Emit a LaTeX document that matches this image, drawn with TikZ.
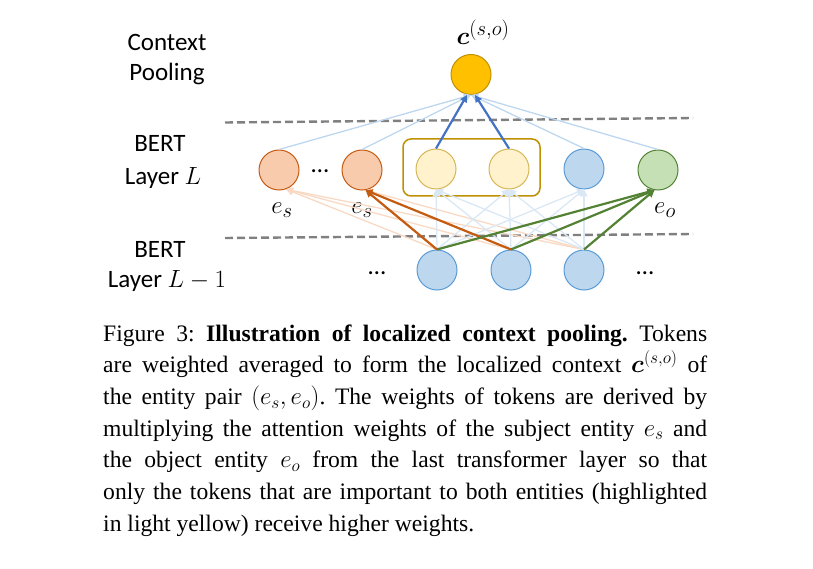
\documentclass[tikz,border=0pt]{standalone}
\usepackage{amsmath}
\usepackage{fontspec}
\setmainfont{Liberation Serif}
\newfontfamily\diag{Carlito}
\usetikzlibrary{arrows.meta,calc}
\definecolor{orfill}{HTML}{F8CBAD}
\definecolor{ordraw}{HTML}{C55A11}
\definecolor{yefill}{HTML}{FFF2CC}
\definecolor{yedraw}{HTML}{D6B656}
\definecolor{boxdraw}{HTML}{BF9000}
\definecolor{blfill}{HTML}{BDD7EE}
\definecolor{bldraw}{HTML}{5B9BD5}
\definecolor{grfill}{HTML}{C5E0B4}
\definecolor{grdraw}{HTML}{548235}
\definecolor{pofill}{HTML}{FFC000}
\definecolor{podraw}{HTML}{BF9000}
\definecolor{sepgray}{HTML}{808080}
\definecolor{lblue}{HTML}{BDD7EE}
\definecolor{llblue}{HTML}{DAE8F5}
\definecolor{lorange}{HTML}{F9D9C4}
\definecolor{darkblue}{HTML}{4472C4}
\frenchspacing
\begin{document}
\begin{tikzpicture}[x=1pt,y=-1pt,
  every node/.style={inner sep=0pt},
  dg/.style={font=\diag\fontsize{25}{30}\selectfont},
  tok/.style={circle,minimum size=40pt,inner sep=0pt,line width=1pt},
  orng/.style={tok,fill=orfill,draw=ordraw},
  ylw/.style={tok,fill=yefill,draw=yedraw},
  blu/.style={tok,fill=blfill,draw=bldraw},
  grn/.style={tok,fill=grfill,draw=grdraw},
  pool/.style={tok,fill=pofill,draw=podraw},
  sepline/.style={draw=sepgray,line width=2.4pt,dash pattern=on 8pt off 4pt},
  lighttop/.style={draw=lblue,line width=1.3pt,-{Triangle[length=7pt,width=7pt]}},
  lightlow/.style={draw=llblue,line width=1.3pt,-{Triangle[length=7pt,width=7pt]}},
  lightor/.style={draw=lorange,line width=1.3pt,-{Triangle[length=7pt,width=7pt]}},
  strongblue/.style={draw=darkblue,line width=2.2pt,-{Triangle[length=7pt,width=7pt]}},
  strongor/.style={draw=ordraw,line width=2.2pt,-{Triangle[length=7pt,width=7pt]}},
  stronggr/.style={draw=grdraw,line width=2.2pt,-{Triangle[length=7pt,width=7pt]}},
  lbl/.style={font=\fontsize{28}{32}\selectfont,anchor=base}
]
\useasboundingbox (0,0) rectangle (813,569);

% separators
\coordinate (s1a) at (225,122.5);
\coordinate (s1b) at (693,118);
\coordinate (s2a) at (225,238);
\coordinate (s2b) at (693,234);
\draw[sepline] (s1a) -- (s1b);
\draw[sepline] (s2a) -- (s2b);

% left labels
\node[dg,anchor=base] (t1) at (167,51) {Context};
\node[dg,anchor=base] (t2) at (167,81) {Pooling};
\node[dg,anchor=base] (t3) at (160,152) {BERT};
\node[dg,anchor=base] (t4) at (163,185) {Layer $L$};
\node[dg,anchor=base] (t5) at (160,258) {BERT};
\node[dg,anchor=base] (t6) at (167,287) {Layer $L-1$};

% highlight box
\node[draw=boxdraw,line width=1.5pt,rounded corners=8pt,minimum width=137pt,minimum height=57pt] (hbox) at (471.5,167.5) {};

% nodes
\node[pool] (top) at (471,74.5) {};
\node[orng] (L1) at (279,170) {};
\node[orng] (L2) at (362,170) {};
\node[ylw] (Y1) at (436,169) {};
\node[ylw] (Y2) at (509,169) {};
\node[blu] (B) at (584,169) {};
\node[grn] (G) at (658,170) {};
\node[blu] (D1) at (437,270) {};
\node[blu] (D2) at (511,270) {};
\node[blu] (D3) at (584,270) {};

% dots
\node[dg,anchor=base] (dt1) at (320,173) {…};
\node[dg,anchor=base] (dt2) at (377,274) {…};
\node[dg,anchor=base] (dt3) at (645,274) {…};

% labels
\node[lbl] (ctx) at (483,45) {$\boldsymbol{c}^{(s,o)}$};
\node[lbl] (es1) at (282,214) {$e_s$};
\node[lbl] (es2) at (362,214) {$e_s$};
\node[lbl] (eo) at (665,214) {$e_o$};

% light lines to pooling node
\draw[lighttop] (L1.north) -- (top.south);
\draw[lighttop] (L2.north) -- (top.south);
\draw[lighttop] (B.north) -- (top.south);
\draw[lighttop] (G.north) -- (top.south);

% light lines from layer L-1
\foreach \d in {D1,D2,D3}{
  \draw[lightor] (\d.north) -- (L1.-70);
}
\draw[lightor] (D3.north) -- (L2.-80);
\foreach \d in {D1,D2,D3}{
  \foreach \t in {Y1,Y2,B}{
    \draw[lightlow] (\d.north) -- (\t.south);
  }
}

% strong lines
\draw[strongblue] (Y1.north) -- ([xshift=-4pt]top.south);
\draw[strongblue] (Y2.north) -- ([xshift=4pt]top.south);
\draw[strongor] (D1.north) -- (L2.-80);
\draw[strongor] (D2.north) -- (L2.-80);
\draw[stronggr] (D1.north) -- (G.-100);
\draw[stronggr] (D2.north) -- (G.-100);
\draw[stronggr] (D3.north) -- (G.-100);

% caption
\node[anchor=base west] (cap) at (103,341) {\parbox[t]{604pt}{\fontsize{23.6}{31.7}\selectfont
Figure 3: \textbf{Illustration of localized context pooling.} Tokens\linebreak
are weighted averaged to form the localized context $\boldsymbol{c}^{(s,o)}$ of\linebreak
the entity pair $(e_s,e_o)$. The weights of tokens are derived by\linebreak
multiplying the attention weights of the subject entity $e_s$ and\linebreak
the object entity $e_o$ from the last transformer layer so that\linebreak
only the tokens that are important to both entities (highlighted\linebreak
in light yellow) receive higher weights.}};
\end{tikzpicture}
\end{document}
